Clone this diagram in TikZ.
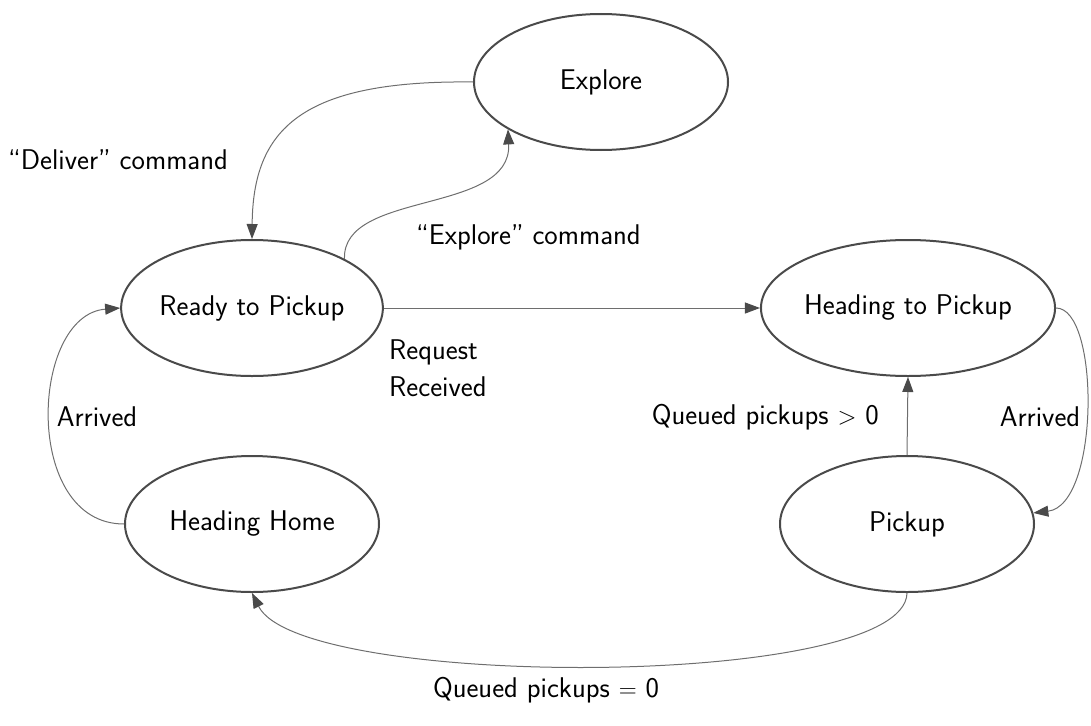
\documentclass[tikz,border=0pt]{standalone}
\usepackage{fontspec}
\usetikzlibrary{shapes.geometric,arrows.meta}
\definecolor{edgegray}{HTML}{6E6E6E}
\definecolor{nodegray}{HTML}{4A4A4A}
\definecolor{tipgray}{HTML}{4A4A4A}
\tikzset{
  state/.style={ellipse, draw=nodegray, line width=2pt, minimum width=254pt, minimum height=136pt, inner sep=0pt,
    font=\sffamily\fontsize{28.5}{34}\selectfont},
  trans/.style={draw=edgegray, line width=1pt, -{Triangle[length=15pt,width=11pt,fill=tipgray,color=tipgray]}},
  lbl/.style={font=\sffamily\fontsize{28.5}{37}\selectfont, inner sep=0pt}
}
\begin{document}
\begin{tikzpicture}[x=1pt,y=-1pt]
\useasboundingbox (0,0) rectangle (1091,725);
\node[state] (explore) at (601,82) {Explore};
\node[state] (ready) at (252,308) {Ready to Pickup};
\node[state] (htp) at (908,308) {Heading to Pickup};
\node[state] (home) at (252,524) {Heading Home};
\node[state] (pickup) at (907,524) {Pickup};

\draw[trans] (explore.west) .. controls (300,80) and (253,130) .. (ready.north);
\draw[trans] (ready.28) .. controls (342,190) and (512,215) .. (explore.207);
\draw[trans] (ready.east) -- (htp.west);
\draw[trans] (htp.east) .. controls (1100,308) and (1100,505) .. (pickup.5);
\draw[trans] (pickup.north) -- (htp.south);
\draw[trans] (pickup.south) .. controls (905,690) and (300,690) .. (home.south);
\draw[trans] (home.west) .. controls (22,524) and (30,315) .. (ready.west);

\node[lbl, anchor=west] (ldeliver) at (8,160) {``Deliver'' command};
\node[lbl, anchor=west] (lexplore) at (416,237) {``Explore'' command};
\node[lbl, anchor=west, align=left] (lrequest) at (389,368) {Request\\Received};
\node[lbl] (larrl) at (97,417) {Arrived};
\node[lbl] (larrr) at (1040,417) {Arrived};
\node[lbl, anchor=east] (lqgt) at (879,417) {Queued pickups $>$ 0};
\node[lbl] (lqeq) at (546,690) {Queued pickups $=$ 0};
\end{tikzpicture}
\end{document}
